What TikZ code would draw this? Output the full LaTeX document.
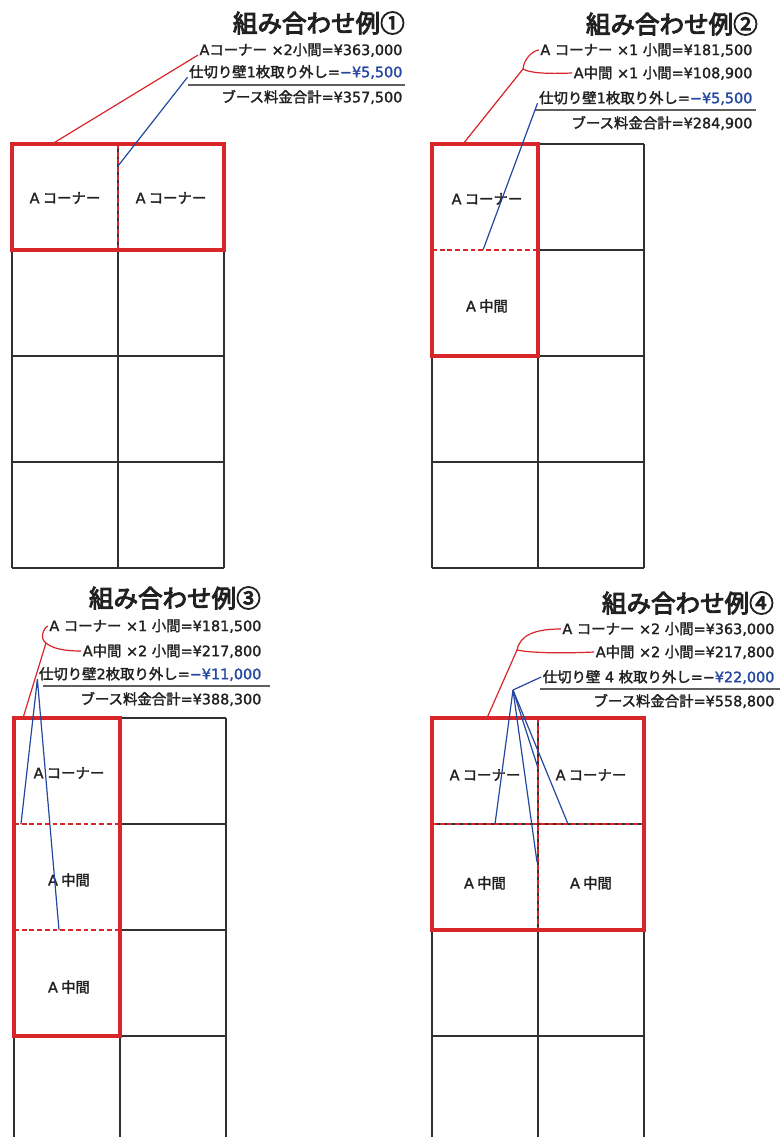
\documentclass[tikz,border=0pt]{standalone}
\usepackage{fontspec}
\newfontfamily\jpfont{Noto Sans CJK JP}[FakeBold=2]
\newfontfamily\jptitle{Noto Sans CJK JP}[FakeBold=4]
\newfontfamily\latfont{DejaVu Sans}[FakeBold=1.6]
\newcommand\nm[1]{{\latfont #1}}
\definecolor{ink}{RGB}{35,32,32}
\definecolor{gridink}{RGB}{50,48,48}
\definecolor{boxred}{RGB}{216,38,42}
\definecolor{wallblue}{RGB}{36,72,160}
\definecolor{rulegray}{RGB}{95,95,95}
\tikzset{
  booth/.style={draw=gridink, line width=1.1pt},
  selbox/.style={draw=boxred, line width=2.6pt},
  openwall/.style={draw=boxred, line width=1.4pt, dash pattern=on 3.6pt off 2.2pt},
  wallbase/.style={draw=white, line width=1.4pt},
  leadred/.style={draw=boxred, line width=0.9pt},
  leadblue/.style={draw=wallblue, line width=0.9pt},
  sumline/.style={draw=rulegray, line width=0.8pt},
  heading/.style={anchor=east, inner sep=0pt, text=ink, font=\jptitle\fontsize{18.4}{20}\selectfont},
  fee/.style={anchor=east, inner sep=1pt, text=ink, font=\jpfont\fontsize{10.8}{12}\selectfont},
  boothlabel/.style={inner sep=0pt, text=ink, font=\jpfont\fontsize{10.8}{12}\selectfont},
}
\begin{document}
\begin{tikzpicture}[x=0.75pt,y=0.75pt,yscale=-1,xscale=1]
\path[fill=white] (0,0) rectangle (780,1137);
\useasboundingbox (0,0) rectangle (780,1137);

% Panel 1: grid
\foreach \gx in {12,118,224} \draw[booth] (\gx,144) -- (\gx,568);
\foreach \gy in {144,250,356,462,568} \draw[booth] (12,\gy) -- (224,\gy);
% Panel 2: grid
\foreach \gx in {432,538,644} \draw[booth] (\gx,144) -- (\gx,568);
\foreach \gy in {144,250,356,462,568} \draw[booth] (432,\gy) -- (644,\gy);
% Panel 3: grid
\foreach \gx in {14,120,226} \draw[booth] (\gx,718) -- (\gx,1137);
\foreach \gy in {718,824,930,1036} \draw[booth] (14,\gy) -- (226,\gy);
% Panel 4: grid
\foreach \gx in {432,538,644} \draw[booth] (\gx,718) -- (\gx,1137);
\foreach \gy in {718,824,930,1036} \draw[booth] (432,\gy) -- (644,\gy);

% removed walls
\draw[openwall] (118,144) -- (118,250);
\draw[wallbase] (432,250) -- (538,250);
\draw[openwall] (432,250) -- (538,250);
\draw[wallbase] (14,824) -- (120,824) (14,930) -- (120,930);
\draw[openwall] (14,824) -- (120,824);
\draw[openwall] (14,930) -- (120,930);
\draw[openwall] (538,718) -- (538,930);
\draw[openwall] (432,824) -- (644,824);

% booked booths
\draw[selbox] (12,144) rectangle (224,250);
\draw[selbox] (432,144) rectangle (538,356);
\draw[selbox] (14,718) rectangle (120,1036);
\draw[selbox] (432,718) rectangle (644,930);

% booth labels
\node[boothlabel] (c1a) at (65,198) {\nm{A} コーナー};
\node[boothlabel] (c1b) at (171,198) {\nm{A} コーナー};
\node[boothlabel] (c2a) at (487,199) {\nm{A} コーナー};
\node[boothlabel] (c2b) at (487,306) {\nm{A} 中間};
\node[boothlabel] (c3a) at (69,773) {\nm{A} コーナー};
\node[boothlabel] (c3b) at (69,880) {\nm{A} 中間};
\node[boothlabel] (c3c) at (69,987) {\nm{A} 中間};
\node[boothlabel] (c4a) at (485,775) {\nm{A} コーナー};
\node[boothlabel] (c4b) at (591,775) {\nm{A} コーナー};
\node[boothlabel] (c4c) at (485,883) {\nm{A} 中間};
\node[boothlabel] (c4d) at (591,883) {\nm{A} 中間};

% Panel 1: text
\node[heading] (h1) at (405,23) {組み合わせ例①};
\node[fee] (f1a) at (404,50) {\nm{A}コーナー\nm{ ×2}小間\nm{=¥363,000}};
\node[fee] (f1b) at (404,72) {仕切り壁\nm{1}枚取り外し\nm{=}\textcolor{wallblue}{\nm{−¥5,500}}};
\node[fee] (f1c) at (404,97) {ブース料金合計\nm{=¥357,500}};
\draw[sumline] (188,85) -- (405,85);
\coordinate (r1) at (52,144);
\coordinate (w1) at (118,166);
\draw[leadred] (f1a.base west) -- (r1);
\draw[leadblue] (f1b.base west) -- (w1);

% Panel 2: text
\node[heading] (h2) at (758,24) {組み合わせ例②};
\node[fee] (f2a) at (754,50) {\nm{A }コーナー\nm{ ×1 }小間\nm{=¥181,500}};
\node[fee] (f2b) at (754,73) {\nm{A}中間\nm{ ×1 }小間\nm{=¥108,900}};
\node[fee] (f2c) at (754,98) {仕切り壁\nm{1}枚取り外し\nm{=}\textcolor{wallblue}{\nm{−¥5,500}}};
\node[fee] (f2d) at (754,123) {ブース料金合計\nm{=¥284,900}};
\draw[sumline] (535,110) -- (756,110);
\coordinate (j2) at (523,69);
\coordinate (r2) at (463,144);
\coordinate (w2) at (483,250);
\draw[leadred] (f2a.west) .. controls (532,51) and (524,59) .. (j2);
\draw[leadred] (j2) .. controls (530,73) and (545,74) .. (f2b.west);
\draw[leadred] (j2) -- (r2);
\draw[leadblue] (f2c.base west) -- (w2);

% Panel 3: text
\node[heading] (h3) at (261,598) {組み合わせ例③};
\node[fee] (f3a) at (263,626) {\nm{A }コーナー\nm{ ×1 }小間\nm{=¥181,500}};
\node[fee] (f3b) at (263,651) {\nm{A}中間\nm{ ×2 }小間\nm{=¥217,800}};
\node[fee] (f3c) at (263,674) {仕切り壁\nm{2}枚取り外し\nm{=}\textcolor{wallblue}{\nm{−¥11,000}}};
\node[fee] (f3d) at (263,699) {ブース料金合計\nm{=¥388,300}};
\draw[sumline] (43,686) -- (270,686);
\coordinate (j3) at (46,643);
\coordinate (r3) at (23,718);
\coordinate (w3a) at (21,824);
\coordinate (w3b) at (59,930);
\draw[leadred] (f3a.west) .. controls (44,628) and (39,638) .. (j3);
\draw[leadred] (j3) .. controls (52,648) and (62,651) .. (f3b.west);
\draw[leadred] (j3) -- (r3);
\draw[leadblue] (w3a) -- (f3c.base west) -- (w3b);

% Panel 4: text
\node[heading] (h4) at (774,603) {組み合わせ例④};
\node[fee] (f4a) at (776,629) {\nm{A }コーナー\nm{ ×2 }小間\nm{=¥363,000}};
\node[fee] (f4b) at (776,652) {\nm{A}中間\nm{ ×2 }小間\nm{=¥217,800}};
\node[fee] (f4c) at (776,677) {仕切り壁\nm{ 4 }枚取り外し\nm{=−}\textcolor{wallblue}{\nm{¥22,000}}};
\node[fee] (f4d) at (776,701) {ブース料金合計\nm{=¥558,800}};
\draw[sumline] (540,689) -- (780,689);
\coordinate (j4) at (517,650);
\coordinate (r4) at (487,718);
\coordinate (a4) at (513,690);
\coordinate (w4a) at (495,824);
\coordinate (w4b) at (538,768);
\coordinate (w4c) at (568,824);
\coordinate (w4d) at (537,862);
\draw[leadred] (f4a.west) .. controls (535,629) and (520,635) .. (j4);
\draw[leadred] (j4) .. controls (526,652) and (550,654) .. (f4b.west);
\draw[leadred] (j4) -- (r4);
\draw[leadblue] (f4c.west) -- (a4);
\foreach \wend in {w4a,w4b,w4c,w4d} \draw[leadblue] (a4) -- (\wend);

\end{tikzpicture}
\end{document}
